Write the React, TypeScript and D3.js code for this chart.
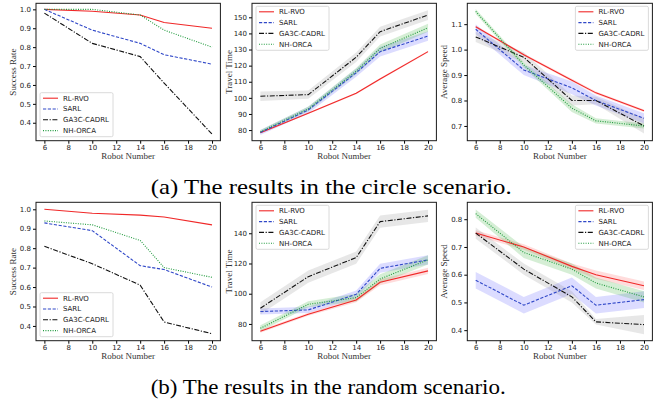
import React, { useEffect, useRef } from 'react';
import * as d3 from 'd3';

// robot counts on the x axis, same for every panel
const robotNumbers = [6, 10, 14, 16, 20];
const xTicks = [6, 8, 10, 12, 14, 16, 18, 20];
const methods = ['RL-RVO', 'SARL', 'GA3C-CADRL', 'NH-ORCA'];

// circle scenario (rows follow `methods`)
const circleSuccess = [
  [1.0, 0.99, 0.97, 0.93, 0.90],
  [1.0, 0.89, 0.82, 0.76, 0.71],
  [0.98, 0.82, 0.75, 0.61, 0.34],
  [1.0, 1.0, 0.97, 0.89, 0.80],
];
const circleTravel = [
  [78.3, 90.4, 102.8, 111.7, 128.7],
  [78.5, 92.5, 115.6, 128.7, 138.4],
  [101, 102, 125.2, 141.1, 151.4],
  [79, 93.2, 116.6, 130.7, 143.5],
];
const circleTravelStd = [
  [0.5, 0.5, 0.5, 0.6, 0.6],
  [1.5, 2, 2.5, 3, 3],
  [3, 2.5, 3, 3, 3],
  [1, 1.5, 2, 2.5, 2.5],
];
const circleSpeed = [
  [1.09, 0.98, 0.88, 0.83, 0.76],
  [1.08, 0.92, 0.85, 0.80, 0.73],
  [1.05, 0.97, 0.80, 0.80, 0.70],
  [1.15, 0.94, 0.77, 0.72, 0.70],
];
const circleSpeedStd = [
  [0.005, 0.005, 0.005, 0.005, 0.005],
  [0.02, 0.02, 0.025, 0.02, 0.02],
  [0.02, 0.02, 0.02, 0.015, 0.03],
  [0.01, 0.01, 0.015, 0.01, 0.01],
];

// random scenario
const randomSuccess = [
  [1.0, 0.98, 0.97, 0.96, 0.92],
  [0.93, 0.89, 0.71, 0.69, 0.60],
  [0.81, 0.72, 0.61, 0.42, 0.36],
  [0.94, 0.92, 0.84, 0.70, 0.65],
];
const randomTravel = [
  [75.2, 86.4, 95.9, 107.6, 115.1],
  [88.2, 89.3, 99.6, 116.8, 122.4],
  [90.4, 111.3, 123.9, 147.7, 151.5],
  [77.1, 93, 97.4, 109.8, 122.4],
];
const randomTravelStd = [
  [1, 1, 1.5, 2, 2],
  [2, 2, 2.5, 3, 3],
  [4, 4, 4, 4, 4],
  [2, 2, 2.5, 3, 3],
];
const randomSpeed = [
  [0.75, 0.70, 0.63, 0.60, 0.56],
  [0.58, 0.49, 0.56, 0.49, 0.51],
  [0.75, 0.62, 0.52, 0.43, 0.42],
  [0.82, 0.68, 0.62, 0.57, 0.52],
];
const randomSpeedStd = [
  [0.01, 0.01, 0.01, 0.015, 0.015],
  [0.03, 0.03, 0.03, 0.03, 0.03],
  [0.02, 0.02, 0.02, 0.01, 0.035],
  [0.015, 0.02, 0.02, 0.02, 0.02],
];

const successTicks = [0.4, 0.5, 0.6, 0.7, 0.8, 0.9, 1.0];
const circleTravelTicks = [80, 90, 100, 110, 120, 130, 140, 150];
const circleSpeedTicks = [0.7, 0.8, 0.9, 1.0, 1.1];
const randomTravelTicks = [80, 100, 120, 140];
const randomSpeedTicks = [0.4, 0.5, 0.6, 0.7, 0.8];

const colors = ['#f02828', '#3048c8', '#111111', '#1f9a3c'];
const bandColors = ['#ff6060', '#6060ff', '#909090', '#40b040'];
const dashes = ['none', '3.2,1.6', '5,1.6,1.2,1.6', '1,1.4'];

const TICK_FONT = 'DejaVu Sans, sans-serif';
const LABEL_FONT = 'Liberation Serif, Times New Roman, serif';

function drawPanel(svg, opts) {
  const { left, right, top, bottom, yDomain, yTicks, yFormat, yLabel, values, std, legend } = opts;
  const x = d3.scaleLinear([5.3, 20.7], [left, right]);
  const y = d3.scaleLinear(yDomain, [bottom, top]);
  const g = svg.append('g');

  // shaded bands
  if (std) {
    values.forEach((vals, k) => {
      const area = d3.area()
        .x((d, i) => x(robotNumbers[i]))
        .y0((d, i) => y(d - std[k][i]))
        .y1((d, i) => y(d + std[k][i]));
      g.append('path')
        .attr('d', area(vals))
        .attr('fill', bandColors[k])
        .attr('fill-opacity', 0.22);
    });
  }

  const line = d3.line().x((d, i) => x(robotNumbers[i])).y(d => y(d));
  values.forEach((vals, k) => {
    g.append('path')
      .attr('d', line(vals))
      .attr('fill', 'none')
      .attr('stroke', colors[k])
      .attr('stroke-width', 1.1)
      .attr('stroke-dasharray', dashes[k]);
  });

  // axes
  g.append('g')
    .attr('transform', `translate(0,${bottom})`)
    .call(d3.axisBottom(x).tickValues(xTicks).tickSize(3).tickPadding(1).tickSizeOuter(0))
    .call(a => a.select('.domain').remove())
    .call(a => a.selectAll('text').attr('font-size', 7).attr('font-family', TICK_FONT).attr('fill', '#222'));
  g.append('g')
    .attr('transform', `translate(${left},0)`)
    .call(d3.axisLeft(y).tickValues(yTicks).tickFormat(d3.format(yFormat)).tickSize(3).tickPadding(2).tickSizeOuter(0))
    .call(a => a.select('.domain').remove())
    .call(a => a.selectAll('text').attr('font-size', 7).attr('font-family', TICK_FONT).attr('fill', '#222'));

  g.append('rect')
    .attr('x', left).attr('y', top)
    .attr('width', right - left).attr('height', bottom - top)
    .attr('fill', 'none').attr('stroke', '#1a1a1a').attr('stroke-width', 1);

  g.append('text')
    .attr('x', (left + right) / 2).attr('y', bottom + 18.5)
    .attr('text-anchor', 'middle')
    .attr('font-family', LABEL_FONT).attr('font-size', 9).attr('fill', '#333')
    .text('Robot Number');
  g.append('text')
    .attr('transform', `translate(${left - 20},${(top + bottom) / 2}) rotate(-90)`)
    .attr('text-anchor', 'middle')
    .attr('font-family', LABEL_FONT).attr('font-size', 9).attr('fill', '#333')
    .text(yLabel);

  // legend
  const lw = 73, lh = 44;
  const lx = legend.includes('right') ? right - 4 - lw : left + 4;
  const ly = legend.includes('lower') ? bottom - 4 - lh : top + 3;
  const lg = g.append('g').attr('transform', `translate(${lx},${ly})`);
  lg.append('rect')
    .attr('width', lw).attr('height', lh).attr('rx', 1.5)
    .attr('fill', 'white').attr('fill-opacity', 0.85)
    .attr('stroke', '#d0d0d0').attr('stroke-width', 0.8);
  methods.forEach((m, k) => {
    const cy = 5.5 + k * 10.8;
    lg.append('line')
      .attr('x1', 3).attr('x2', 18).attr('y1', cy).attr('y2', cy)
      .attr('stroke', colors[k]).attr('stroke-width', 1.1)
      .attr('stroke-dasharray', dashes[k]);
    lg.append('text')
      .attr('x', 23).attr('y', cy).attr('dy', '0.35em')
      .attr('font-family', TICK_FONT).attr('font-size', 7).attr('fill', '#222')
      .text(m);
  });
}

export default function App() {
  const ref = useRef(null);

  useEffect(() => {
    const svg = d3.select(ref.current);
    svg.selectAll('*').remove();
    const cols = [[36, 220.4], [252, 436.4], [467.3, 652.4]];
    const rows = [[3.3, 140.7], [202.3, 340.7]];

    drawPanel(svg, { left: cols[0][0], right: cols[0][1], top: rows[0][0], bottom: rows[0][1],
      yDomain: [0.305, 1.032], yTicks: successTicks, yFormat: '.1f', yLabel: 'Success Rate',
      values: circleSuccess, std: null, legend: 'lower left' });
    drawPanel(svg, { left: cols[1][0], right: cols[1][1], top: rows[0][0], bottom: rows[0][1],
      yDomain: [73.4, 158.7], yTicks: circleTravelTicks, yFormat: 'd', yLabel: 'Travel Time',
      values: circleTravel, std: circleTravelStd, legend: 'upper left' });
    drawPanel(svg, { left: cols[2][0], right: cols[2][1], top: rows[0][0], bottom: rows[0][1],
      yDomain: [0.642, 1.182], yTicks: circleSpeedTicks, yFormat: '.1f', yLabel: 'Average Speed',
      values: circleSpeed, std: circleSpeedStd, legend: 'upper right' });

    drawPanel(svg, { left: cols[0][0], right: cols[0][1], top: rows[1][0], bottom: rows[1][1],
      yDomain: [0.324, 1.036], yTicks: successTicks, yFormat: '.1f', yLabel: 'Success Rate',
      values: randomSuccess, std: null, legend: 'lower left' });
    drawPanel(svg, { left: cols[1][0], right: cols[1][1], top: rows[1][0], bottom: rows[1][1],
      yDomain: [68.9, 160.5], yTicks: randomTravelTicks, yFormat: 'd', yLabel: 'Travel Time',
      values: randomTravel, std: randomTravelStd, legend: 'upper left' });
    drawPanel(svg, { left: cols[2][0], right: cols[2][1], top: rows[1][0], bottom: rows[1][1],
      yDomain: [0.362, 0.861], yTicks: randomSpeedTicks, yFormat: '.1f', yLabel: 'Average Speed',
      values: randomSpeed, std: randomSpeedStd, legend: 'upper right' });

    svg.append('text')
      .attr('x', 150.7).attr('y', 193.5)
      .attr('font-family', LABEL_FONT).attr('font-size', 22)
      .attr('textLength', 361).attr('lengthAdjust', 'spacingAndGlyphs')
      .text('(a) The results in the circle scenario.');
    svg.append('text')
      .attr('x', 150.7).attr('y', 393.5)
      .attr('font-family', LABEL_FONT).attr('font-size', 22)
      .attr('textLength', 355).attr('lengthAdjust', 'spacingAndGlyphs')
      .text('(b) The results in the random scenario.');
  }, []);

  return (
    <svg ref={ref} width={667} height={403}
      style={{ position: 'absolute', left: 0, top: 0, background: 'white' }} />
  );
}
